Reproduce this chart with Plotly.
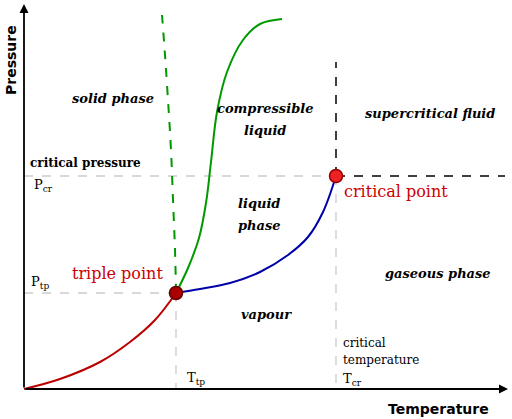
import plotly.graph_objects as go

# curve points in picture units (x to the right, y downward)
subl_x = [24, 60, 100, 130, 155, 176]
subl_y = [389, 379, 362, 342, 320, 293]
vap_x = [176, 200, 230, 260, 288, 308, 323, 336]
vap_y = [293, 289, 283, 272, 255, 237, 212, 176]
melt_dash_x = [176, 175, 173, 171, 168, 165, 162]
melt_dash_y = [293, 250, 200, 150, 100, 55, 15]
melt_x = [176, 188, 199, 206, 211, 217, 227, 243, 260, 282]
melt_y = [293, 268, 238, 203, 162, 112, 72, 40, 24, 19]
tp = (176, 293)
cp = (336, 176)

fig = go.Figure()
grey = dict(color="#cccccc", width=1.3, dash="dash")
for xs, ys in [([24, cp[0]], [cp[1], cp[1]]), ([cp[0], cp[0]], [cp[1], 389]),
               ([24, tp[0]], [tp[1], tp[1]]), ([tp[0], tp[0]], [tp[1], 389])]:
    fig.add_trace(go.Scatter(x=xs, y=ys, mode="lines", line=grey))
blk = dict(color="black", width=1.5, dash="dash")
fig.add_trace(go.Scatter(x=[cp[0], cp[0]], y=[cp[1], 62], mode="lines", line=blk))
fig.add_trace(go.Scatter(x=[cp[0], 505], y=[cp[1], cp[1]], mode="lines", line=blk))
fig.add_trace(go.Scatter(x=subl_x, y=subl_y, mode="lines", line=dict(color="#bb0000", width=2, shape="spline")))
fig.add_trace(go.Scatter(x=vap_x, y=vap_y, mode="lines", line=dict(color="#0000aa", width=2, shape="spline")))
fig.add_trace(go.Scatter(x=melt_dash_x, y=melt_dash_y, mode="lines", line=dict(color="#009900", width=2, dash="dash", shape="spline")))
fig.add_trace(go.Scatter(x=melt_x, y=melt_y, mode="lines", line=dict(color="#009900", width=2, shape="spline")))
fig.add_trace(go.Scatter(x=[tp[0]], y=[tp[1]], mode="markers", marker=dict(size=13, color="#aa0000", line=dict(color="#660000", width=1.5))))
fig.add_trace(go.Scatter(x=[cp[0]], y=[cp[1]], mode="markers", marker=dict(size=13, color="#ee2222", line=dict(color="#990000", width=1.5))))

SERIF = "DejaVu Serif"
ann = []
def t(x, y, s, size=14, color="black", **kw):
    ann.append(dict(x=x, y=y, text=s, showarrow=False, font=dict(family=SERIF, size=size, color=color), **kw))

for x, y, s in [(113, 98, "solid phase"), (265, 108, "compressible"), (265, 130, "liquid"),
                (430, 113, "supercritical fluid"), (259, 203, "liquid"), (259, 225, "phase"),
                (438, 273, "gaseous phase"), (266, 314, "vapour")]:
    t(x, y, "<b><i>" + s + "</i></b>", 13)
t(85, 163, "<b>critical pressure</b>", 12)
t(43, 185, "P<sub>cr</sub>", 13)
t(40, 282, "P<sub>tp</sub>", 13)
t(117, 273, "triple point", 16, "#cc0000")
t(396, 191, "critical point", 16, "#cc0000")
t(341, 343, "critical", 12, xanchor="left")
t(341, 360, "temperature", 12, xanchor="left")
t(341, 379, "T<sub>cr</sub>", 13, xanchor="left")
t(196, 378, "T<sub>tp</sub>", 13)
ann.append(dict(x=11, y=60, text="<b>Pressure</b>", textangle=-90, showarrow=False,
                font=dict(family="DejaVu Sans", size=14, color="black")))
ann.append(dict(x=438, y=409, text="<b>Temperature</b>", showarrow=False,
                font=dict(family="DejaVu Sans", size=14, color="black")))
for ax, ay, x, y in [(24, 389, 24, 4), (24, 389, 508, 389)]:
    ann.append(dict(x=x, y=y, ax=ax, ay=ay, axref="x", ayref="y", xref="x", yref="y", text="",
                    showarrow=True, arrowhead=2, arrowsize=1, arrowwidth=1.8, arrowcolor="black"))

fig.update_layout(width=512, height=419, margin=dict(l=0, r=0, t=0, b=0), showlegend=False,
                  plot_bgcolor="white", paper_bgcolor="white", annotations=ann,
                  xaxis=dict(range=[0, 512], visible=False),
                  yaxis=dict(range=[419, 0], visible=False))
fig.write_html("out.html", config={"displayModeBar": False},
               post_script="document.body.style.margin='0';document.body.style.overflow='hidden';")
